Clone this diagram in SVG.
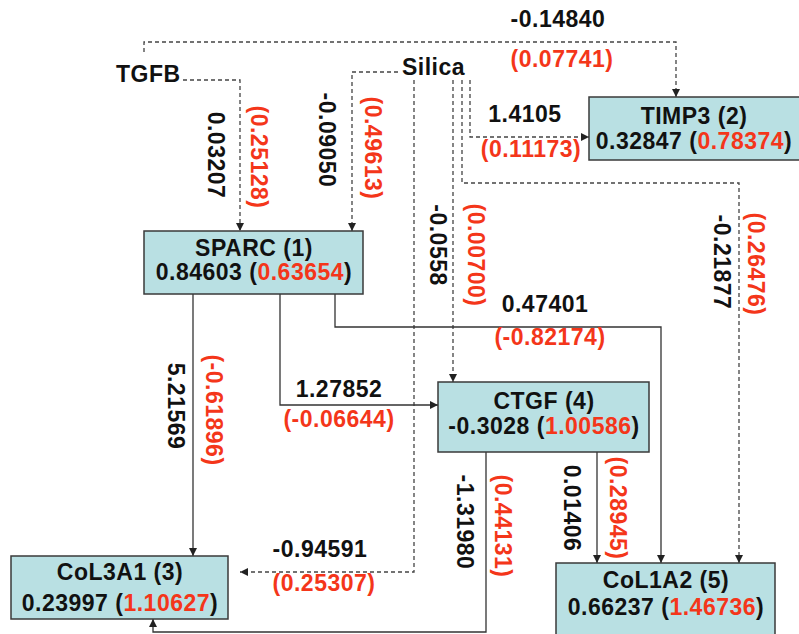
<svg xmlns="http://www.w3.org/2000/svg" width="799" height="634" viewBox="0 0 799 634">
<defs>
<marker id="arr" markerUnits="userSpaceOnUse" markerWidth="9" markerHeight="9" refX="8" refY="4" orient="auto">
<path d="M0,0 L8,4 L0,8 z" fill="#222"/>
</marker>
<style>
text{font-family:"Liberation Sans",Arial,sans-serif;font-weight:bold;font-size:23px;letter-spacing:0.5px;fill:#111}
.r{fill:#f4361a}
.c{text-anchor:middle}
.box{fill:#b9e0e3;stroke:#3a3a3a;stroke-width:1.5}
.d{fill:none;stroke:#444;stroke-width:1.3;stroke-dasharray:4 3;marker-end:url(#arr)}
.s{fill:none;stroke:#333;stroke-width:1.3;marker-end:url(#arr)}
</style>
</defs>
<rect width="799" height="634" fill="#fff"/>
<g id="connectors">
<path class="d" d="M144,52 V42 H676 V97"/>
<path class="d" d="M183,80 H240 V231"/>
<path class="d" d="M398,72 H352 V231"/>
<path class="d" d="M414,80 V572 H240"/>
<path class="d" d="M453,80 V382"/>
<path class="d" d="M462,80 V183 H739 V563"/>
<path class="d" d="M470,80 V137 H589"/>
<path class="s" d="M193,294 V556"/>
<path class="s" d="M280,294 V405 H438"/>
<path class="s" d="M335,294 V327 H661 V563"/>
<path class="s" d="M486,452 V632 H153 V619"/>
<path class="s" d="M597,452 V563"/>
</g>
<g id="labels">
<text class="c" x="558" y="27">-0.14840</text>
<text class="c r" x="562" y="67">(0.07741)</text>
<text class="c" x="525" y="122">1.4105</text>
<text class="c r" x="531" y="157">(0.11173)</text>
<text class="c" x="545" y="312">0.47401</text>
<text class="c r" x="550" y="345">(-0.82174)</text>
<text class="c" x="339" y="397">1.27852</text>
<text class="c r" x="339" y="427">(-0.06644)</text>
<text class="c" x="320" y="557">-0.94591</text>
<text class="c r" x="324" y="591">(0.25307)</text>
<text class="c" transform="translate(208,155) rotate(90)">0.03207</text>
<text class="c r" transform="translate(251,157) rotate(90)">(0.25128)</text>
<text class="c" transform="translate(319,140) rotate(90)">-0.09050</text>
<text class="c r" transform="translate(365,148) rotate(90)">(0.49613)</text>
<text class="c" transform="translate(430,245) rotate(90)">-0.0558</text>
<text class="c r" transform="translate(468,255) rotate(90)">(0.00700)</text>
<text class="c" transform="translate(714,262) rotate(90)">-0.21877</text>
<text class="c r" transform="translate(748,264) rotate(90)">(0.26476)</text>
<text class="c" transform="translate(168,406) rotate(90)">5.21569</text>
<text class="c r" transform="translate(206,410) rotate(90)">(-0.61896)</text>
<text class="c" transform="translate(457,522) rotate(90)">-1.31980</text>
<text class="c r" transform="translate(495,526) rotate(90)">(0.44131)</text>
<text class="c" transform="translate(564,508) rotate(90)">0.01406</text>
<text class="c r" transform="translate(610,508) rotate(90)">(0.28945)</text>
</g>
<g id="TGFB"><text x="116" y="82">TGFB</text></g>
<g id="Silica"><text x="402" y="75">Silica</text></g>
<g id="TIMP3">
<rect class="box" x="589" y="97" width="211" height="63"/>
<text class="c" x="694" y="124">TIMP3 (2)</text>
<text class="c" x="694" y="149">0.32847 (<tspan class="r">0.78374</tspan>)</text>
</g>
<g id="SPARC">
<rect class="box" x="144" y="231" width="219" height="63"/>
<text class="c" x="254" y="256">SPARC (1)</text>
<text class="c" x="254" y="280">0.84603 (<tspan class="r">0.63654</tspan>)</text>
</g>
<g id="CTGF">
<rect class="box" x="438" y="382" width="211" height="70"/>
<text class="c" x="544" y="409">CTGF (4)</text>
<text class="c" x="544" y="434">-0.3028 (<tspan class="r">1.00586</tspan>)</text>
</g>
<g id="CoL3A1">
<rect class="box" x="11" y="556" width="217" height="63"/>
<text class="c" x="120" y="580">CoL3A1 (3)</text>
<text class="c" x="120" y="611">0.23997 (<tspan class="r">1.10627</tspan>)</text>
</g>
<g id="CoL1A2">
<rect class="box" x="556" y="563" width="219" height="80"/>
<text class="c" x="666" y="588">CoL1A2 (5)</text>
<text class="c" x="666" y="615">0.66237 (<tspan class="r">1.46736</tspan>)</text>
</g>
</svg>
